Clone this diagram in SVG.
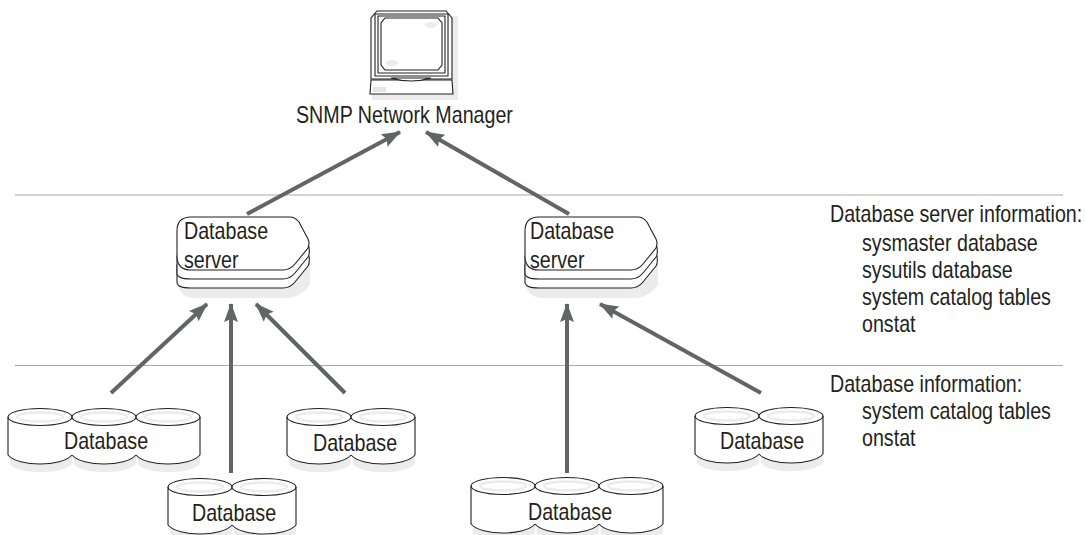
<svg xmlns="http://www.w3.org/2000/svg" width="1086" height="535" viewBox="0 0 1086 535">
<style>
text{font-family:"Liberation Sans",Arial,sans-serif;font-size:23px;fill:#231f20}
.ol{fill:#fff;stroke:#231f20;stroke-width:1.1}
.ln{fill:none;stroke:#231f20;stroke-width:1.1}
.sh{fill:#ececec;stroke:none}
.bd{fill:#fff;stroke:none}
.hl{fill:none;stroke:#ececec;stroke-width:2.5}
.spot{fill:#ececec;stroke:none}
.rule{stroke:#aaa;stroke-width:1;fill:none}
.arr{stroke:#5f6664;stroke-width:4;fill:none;marker-end:url(#a)}
</style>
<defs>
<marker id="a" markerUnits="userSpaceOnUse" markerWidth="20" markerHeight="16" refX="18" refY="8" orient="auto"><path d="M0 1L19 8L0 15L3 8Z" fill="#5f6664"/></marker>
<g id="can">
<path class="sh" d="M2 40V47C10 58 54 58 64 47V40Z"/>
<path class="bd" d="M0 0V38C10 50 54 50 64 38V0Z"/>
<path class="ln" d="M0 38C10 50 54 50 64 38"/>
<ellipse class="ol" cx="32" cy="0" rx="32" ry="8.5"/>
<ellipse class="hl" cx="32" cy="0" rx="23" ry="4.5"/>
</g>
<g id="server">
<path class="sh" d="M1 40H133V68Q125 79 112 81H18Q2 81 1 66Z"/>
<path class="ol" d="M0 48V65Q0 71 14 71H106Q113 71 118 65L131 49Q133 46 132 39Z"/>
<path class="ol" d="M0 39V56Q0 62 14 62H106Q113 62 118 56L131 40Q133 37 132 30Z"/>
<path class="ol" d="M14 0H113Q118 0 122 5L131 22Q133 26 131 31L118 47Q113 53 106 53H14Q0 53 0 39V14Q0 0 14 0Z"/>
</g>
</defs>

<g id="rules">
<path class="rule" d="M15 195H1063"/>
<path class="rule" d="M15 365.500H1063"/>
</g>

<g id="connectors">
<path class="arr" d="M247 214L400 132"/>
<path class="arr" d="M569 214L426 132"/>
<path class="arr" d="M111 393L207 304"/>
<path class="arr" d="M231 473V304"/>
<path class="arr" d="M345 393L256 304"/>
<path class="arr" d="M567 473V304"/>
<path class="arr" d="M761 393L600 304"/>
</g>

<g id="manager">
<path class="sh" d="M452 16H458V100H372V94H452Z"/>
<path class="ol" d="M377 11H446L452 18V79H371V18Z"/>
<path class="ol" d="M375 14H448V76H375Z"/>
<path class="ol" d="M378 16H445V73H378Z" stroke-width="1.6"/>
<path class="ol" d="M385 18H438L442 23V65L438 70H385L381 65V23Z"/>
<ellipse class="spot" cx="431" cy="25" rx="6" ry="3"/>
<ellipse class="spot" cx="392" cy="63" rx="6" ry="3"/>
<path class="ol" d="M371 80H452L453 94H370Z"/>
<path class="ol" d="M391 78Q411 84 431 78Z"/>
<rect x="373" y="87" width="13" height="5" fill="#e6e6e6"/>
<text transform="translate(296 123) scale(.855 1)">SNMP Network Manager</text>
</g>

<g id="server1"><use href="#server" x="177" y="217"/><text transform="translate(184 239) scale(.855 1)">Database</text><text transform="translate(184 268) scale(.855 1)">server</text></g>
<g id="server2"><use href="#server" x="525" y="217"/><text transform="translate(530 239) scale(.855 1)">Database</text><text transform="translate(530 268) scale(.855 1)">server</text></g>

<g id="db1"><use href="#can" x="8" y="417"/><use href="#can" x="72" y="417"/><use href="#can" x="136" y="417"/><path class="ln" d="M8 417V455M200 417V455"/><text transform="translate(64 449) scale(.855 1)">Database</text></g>
<g id="db2"><use href="#can" x="287" y="417"/><use href="#can" x="351" y="417"/><path class="ln" d="M287 417V455M415 417V455"/><text transform="translate(313 451) scale(.855 1)">Database</text></g>
<g id="db3"><use href="#can" x="168" y="487"/><use href="#can" x="232" y="487"/><path class="ln" d="M168 487V525M296 487V525"/><text transform="translate(192 521) scale(.855 1)">Database</text></g>
<g id="db4"><use href="#can" x="471" y="486"/><use href="#can" x="535" y="486"/><use href="#can" x="599" y="486"/><path class="ln" d="M471 486V524M663 486V524"/><text transform="translate(528 520) scale(.855 1)">Database</text></g>
<g id="db5"><use href="#can" x="695" y="416"/><use href="#can" x="759" y="416"/><path class="ln" d="M695 416V454M823 416V454"/><text transform="translate(720 449) scale(.855 1)">Database</text></g>

<g id="info1">
<text transform="translate(830 222) scale(.855 1)">Database server information:</text>
<text transform="translate(862 251) scale(.855 1)">sysmaster database</text>
<text transform="translate(862 278) scale(.855 1)">sysutils database</text>
<text transform="translate(862 305) scale(.855 1)">system catalog tables</text>
<text transform="translate(862 332) scale(.855 1)">onstat</text>
</g>
<g id="info2">
<text transform="translate(830 392) scale(.855 1)">Database information:</text>
<text transform="translate(862 419) scale(.855 1)">system catalog tables</text>
<text transform="translate(862 446) scale(.855 1)">onstat</text>
</g>
</svg>
